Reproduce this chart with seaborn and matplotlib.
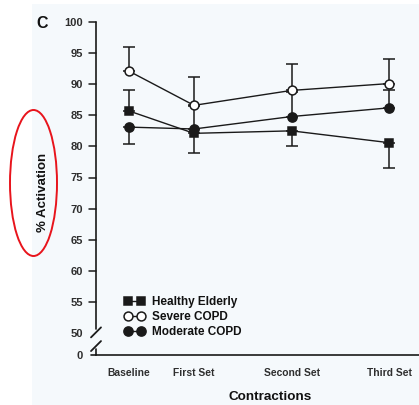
import matplotlib
matplotlib.use("Agg")
import matplotlib.pyplot as plt
import seaborn as sns
import pandas as pd
import numpy as np
from matplotlib.patches import Ellipse, Rectangle
from matplotlib.lines import Line2D

# ---- data ----
contractions = ["Baseline", "First Set", "Second Set", "Third Set"]
x_pos = [0, 1, 2.5, 4]
healthy = [85.7, 82.1, 82.5, 80.6]
severe = [92.1, 86.6, 89.0, 90.1]
moderate = [83.1, 82.8, 84.8, 86.2]
# one-sided error bars (lower, upper)
healthy_lo = [0.0, 3.2, 2.4, 4.0]
healthy_hi = [3.4, 0.0, 0.0, 0.0]
severe_lo = [0.0, 0.0, 0.0, 0.0]
severe_hi = [3.9, 4.6, 4.3, 3.9]
moderate_lo = [2.7, 0.0, 0.0, 0.0]
moderate_hi = [0.0, 3.7, 4.0, 2.9]
ytick_vals = [50, 55, 60, 65, 70, 75, 80, 85, 90, 95, 100]

sns.set_style("white")
plt.rcParams["font.family"] = ["Liberation Sans", "DejaVu Sans"]

W, H = 419, 405
fig = plt.figure(figsize=(W / 100, H / 100), dpi=100)
fig.patch.set_facecolor("white")
fig.patches.append(Rectangle((32 / W, 0), 1 - 32 / W, 1 - 4 / H, transform=fig.transFigure,
                             facecolor="#f5f9fc", edgecolor="none", zorder=-10))

ax_l, ax_r, ax_t, ax_b = 96, 419, 22, 355
ax = fig.add_axes([ax_l / W, 1 - ax_b / H, (ax_r - ax_l) / W, (ax_b - ax_t) / H])
ax.set_facecolor("none")

ybot = 100 - (ax_b - ax_t) / 6.22
ax.set_ylim(ybot, 100)
unit = 65.0
xl = -(129 - ax_l) / unit
ax.set_xlim(xl, xl + (ax_r - ax_l) / unit)

lc = "#1a1a1a"
df = pd.DataFrame({"x": x_pos * 3,
                   "y": healthy + severe + moderate,
                   "g": ["Healthy Elderly"] * 4 + ["Severe COPD"] * 4 + ["Moderate COPD"] * 4})

# error bars
for vals, lo, hi in [(healthy, healthy_lo, healthy_hi), (severe, severe_lo, severe_hi),
                     (moderate, moderate_lo, moderate_hi)]:
    ax.errorbar(x_pos, vals, yerr=[lo, hi], fmt="none", ecolor=lc, elinewidth=1.1,
                capsize=4.5, capthick=1.1, zorder=1.5)

styles = {
    "Healthy Elderly": dict(marker="s", markersize=5.2, markerfacecolor=lc),
    "Severe COPD": dict(marker="o", markersize=6.4, markerfacecolor="white"),
    "Moderate COPD": dict(marker="o", markersize=6.6, markerfacecolor=lc),
}
for name in ["Healthy Elderly", "Moderate COPD", "Severe COPD"]:
    sub = df[df["g"] == name]
    sns.lineplot(data=sub, x="x", y="y", ax=ax, color=lc, linewidth=1.0,
                 markeredgecolor=lc, markeredgewidth=1.1, label=name, zorder=3,
                 **styles[name])

# axes styling
for s in ["top", "right", "left"]:
    ax.spines[s].set_visible(False)
ax.spines["bottom"].set_color(lc)
ax.spines["bottom"].set_linewidth(1.2)

ax.set_xticks(x_pos)
ax.set_xticklabels(contractions)
ax.set_yticks([ybot] + ytick_vals)
ax.set_yticklabels(["0"] + [str(v) for v in ytick_vals])
ax.tick_params(axis="x", direction="out", length=5, width=1.1, color=lc,
               labelsize=7.4, labelcolor="#2e2e2e", pad=4.5)
ax.tick_params(axis="y", length=0, labelsize=8, labelcolor="#2e2e2e", pad=9.4)
for t in ax.get_xticklabels() + ax.get_yticklabels():
    t.set_fontweight("bold")

# custom left axis with break
def fy(v):
    return (v - ybot) / (100 - ybot)

tr = ax.transAxes
dx = 1.0 / (ax_r - ax_l)
dy = 1.0 / (ax_b - ax_t)
ax.add_line(Line2D([0, 0], [fy(50.6), 1], transform=tr, color=lc, lw=1.2, clip_on=False))
ax.add_line(Line2D([0, 0], [0, fy(47.4)], transform=tr, color=lc, lw=1.2, clip_on=False))
# y ticks (outward)
for v in ytick_vals:
    if v == 50:
        continue
    ax.add_line(Line2D([-7 * dx, 0], [fy(v), fy(v)], transform=tr, color=lc, lw=1.1, clip_on=False))
ax.add_line(Line2D([-5 * dx, 0], [0, 0], transform=tr, color=lc, lw=1.2, clip_on=False))
# break slashes
for cv in [50.1, 47.9]:
    c = fy(cv)
    ax.add_line(Line2D([-5 * dx, 5 * dx], [c - 5 * dy, c + 5 * dy], transform=tr,
                       color=lc, lw=1.3, clip_on=False))

ax.set_xlabel("")
ax.set_ylabel("")

handles, labels = ax.get_legend_handles_labels()
order = [labels.index(n) for n in ["Healthy Elderly", "Severe COPD", "Moderate COPD"]]
leg = ax.legend([handles[i] for i in order], [labels[i] for i in order],
                loc="lower left", bbox_to_anchor=(0.055, 0.02), frameon=False, numpoints=2,
                handlelength=1.7, handletextpad=0.6, labelspacing=0.25,
                prop={"family": "Liberation Sans", "weight": "bold", "size": 8.5})
for t in leg.get_texts():
    t.set_color("#111111")

fig.text(270 / W, 1 - 397 / H, "Contractions", ha="center", va="center",
         fontsize=9.7, fontweight="bold", color="#111111")
fig.text(43 / W, 1 - 192 / H, "% Activation", ha="center", va="center", rotation=90,
         fontsize=9.5, fontweight="bold", color="#111111")
fig.text(42 / W, 1 - 24 / H, "C", ha="center", va="center", fontsize=11.5,
         fontweight="bold", color="#111111")

fig.patches.append(Ellipse((33.5 / W, 1 - 183 / H), 47 / W, 146 / H, transform=fig.transFigure,
                           facecolor="none", edgecolor="#e8141c", linewidth=1.4, zorder=10))

fig.savefig("out.png", dpi=100)
